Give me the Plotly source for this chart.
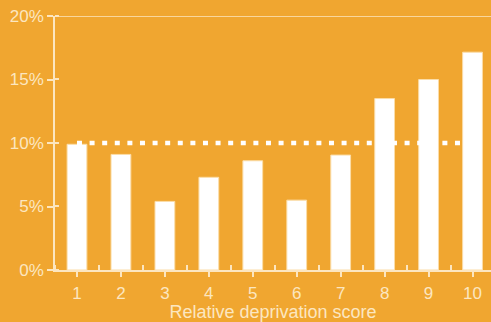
import plotly.graph_objects as go

categories = [1, 2, 3, 4, 5, 6, 7, 8, 9, 10]
values = [9.9, 9.1, 5.4, 7.3, 8.6, 5.5, 9.05, 13.5, 15.0, 17.15]
reference_level = 10
y_ticks = [0, 5, 10, 15, 20]
y_tick_labels = ["0%", "5%", "10%", "15%", "20%"]

BG = "#F0A630"
CREAM = "#FCE6C0"
FONT = "Liberation Sans, Arial, sans-serif"

fig = go.Figure()
fig.add_trace(go.Bar(
    x=categories, y=values, width=0.45,
    marker=dict(color="white", line=dict(color="#FBDDA8", width=1)),
    showlegend=False,
))
fig.add_trace(go.Scatter(
    x=[categories[0], categories[-1]], y=[reference_level, reference_level],
    mode="lines", line=dict(color="white", width=4.5, dash="5px,7.6px"),
    showlegend=False,
))

fig.add_shape(type="line", xref="paper", yref="y", x0=0, x1=1, y0=20, y1=20,
              line=dict(color=CREAM, width=1.5))

fig.update_layout(
    width=491, height=322,
    margin=dict(l=55, r=0, t=16, b=52),
    paper_bgcolor=BG, plot_bgcolor=BG,
    font=dict(family=FONT, color=CREAM, size=17),
    bargap=0.55,
    xaxis=dict(
        range=[0.5, 10.42], tickmode="array", tickvals=categories,
        ticktext=[str(c) for c in categories],
        showgrid=False, zeroline=False, showline=True, linecolor=CREAM, linewidth=1.5,
        ticks="outside", tickson="boundaries", ticklen=5, tickcolor=CREAM, tickwidth=1.5,
        ticklabelstandoff=2,
        minor=dict(ticks="inside", tick0=1.501, dtick=1, ticklen=5, tickcolor=CREAM, tickwidth=1.5),
        tickfont=dict(size=17, color=CREAM),
        title=dict(text="Relative deprivation score", font=dict(size=18, color=CREAM), standoff=4),
    ),
    yaxis=dict(
        range=[0, 20], tickmode="array", tickvals=y_ticks, ticktext=y_tick_labels,
        showgrid=False, zeroline=False, showline=True, linecolor=CREAM, linewidth=1.5,
        ticks="outside", ticklen=6, tickcolor=CREAM, tickwidth=1.5,
        minor=dict(ticks="inside", tick0=5.001, dtick=5, ticklen=4, tickcolor=CREAM, tickwidth=1.5),
        tickfont=dict(size=17, color=CREAM),
    ),
)

fig.write_html("out.html")
